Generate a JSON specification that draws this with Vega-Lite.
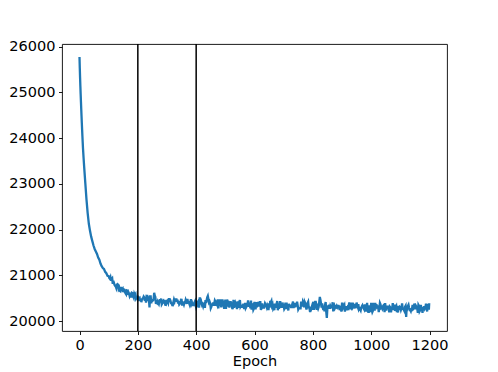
{
  "$schema": "https://vega.github.io/schema/vega-lite/v6.json",
  "width": 385,
  "height": 287,
  "autosize": {"type": "none"},
  "padding": {"left": 62, "top": 44, "right": 51, "bottom": 41},
  "background": "white",
  "config": {
    "view": {"stroke": "#000", "strokeWidth": 0.9},
    "axis": {
      "domain": false, "grid": false,
      "tickColor": "#000", "tickSize": 3.5, "tickWidth": 0.9,
      "labelColor": "#000", "labelFont": "DejaVu Sans", "labelFontSize": 14.5, "labelPadding": 3.5,
      "titleFont": "DejaVu Sans", "titleFontSize": 14.5, "titleFontWeight": "normal", "titleColor": "#000"
    }
  },
  "layer": [
    {
      "data": {"values": [
        {"epoch":0,"loss":25770},{"epoch":1,"loss":25530},{"epoch":2,"loss":25320},{"epoch":3,"loss":25130},{"epoch":4,"loss":24955},{"epoch":5,"loss":24790},{"epoch":6,"loss":24630},{"epoch":7,"loss":24475},{"epoch":8,"loss":24325},{"epoch":9,"loss":24180},{"epoch":10,"loss":24040},{"epoch":11,"loss":23905},{"epoch":12,"loss":23775},{"epoch":14,"loss":23565},
        {"epoch":16,"loss":23370},{"epoch":20,"loss":23010},{"epoch":24,"loss":22655},{"epoch":28,"loss":22362},{"epoch":32,"loss":22128},{"epoch":36,"loss":21973},{"epoch":40,"loss":21846},{"epoch":44,"loss":21749},{"epoch":48,"loss":21652},
        {"epoch":52,"loss":21577},{"epoch":56,"loss":21522},{"epoch":60,"loss":21467},{"epoch":64,"loss":21390},{"epoch":68,"loss":21342},{"epoch":72,"loss":21258},{"epoch":76,"loss":21202},{"epoch":80,"loss":21160},{"epoch":84,"loss":21140},{"epoch":88,"loss":21077},{"epoch":92,"loss":21047},{"epoch":96,"loss":20990},
        {"epoch":100,"loss":20984},{"epoch":104,"loss":20926},{"epoch":108,"loss":20882},{"epoch":112,"loss":20940},{"epoch":116,"loss":20884},{"epoch":120,"loss":20797},{"epoch":124,"loss":20760},{"epoch":128,"loss":20797},{"epoch":132,"loss":20799},{"epoch":136,"loss":20731},{"epoch":140,"loss":20652},{"epoch":144,"loss":20658},{"epoch":148,"loss":20713},{"epoch":152,"loss":20697},{"epoch":156,"loss":20634},{"epoch":160,"loss":20584},{"epoch":164,"loss":20667},{"epoch":168,"loss":20630},{"epoch":172,"loss":20546},{"epoch":176,"loss":20595},{"epoch":180,"loss":20620},{"epoch":184,"loss":20538},{"epoch":188,"loss":20600},{"epoch":192,"loss":20591},{"epoch":196,"loss":20510},
        {"epoch":200,"loss":20534},{"epoch":204,"loss":20502},{"epoch":208,"loss":20442},{"epoch":212,"loss":20415},{"epoch":216,"loss":20492},{"epoch":220,"loss":20536},{"epoch":224,"loss":20447},{"epoch":228,"loss":20403},{"epoch":232,"loss":20549},{"epoch":236,"loss":20505},{"epoch":240,"loss":20300},{"epoch":244,"loss":20540},{"epoch":248,"loss":20457},
        {"epoch":252,"loss":20454},{"epoch":256,"loss":20620},{"epoch":260,"loss":20529},{"epoch":264,"loss":20418},{"epoch":268,"loss":20433},{"epoch":272,"loss":20372},{"epoch":276,"loss":20478},{"epoch":280,"loss":20494},{"epoch":284,"loss":20388},{"epoch":288,"loss":20453},{"epoch":292,"loss":20430},{"epoch":296,"loss":20357},
        {"epoch":300,"loss":20446},{"epoch":304,"loss":20395},{"epoch":308,"loss":20480},{"epoch":312,"loss":20442},{"epoch":316,"loss":20391},{"epoch":320,"loss":20349},{"epoch":324,"loss":20475},{"epoch":328,"loss":20497},{"epoch":332,"loss":20495},{"epoch":336,"loss":20471},{"epoch":340,"loss":20434},{"epoch":344,"loss":20383},{"epoch":348,"loss":20468},{"epoch":352,"loss":20339},{"epoch":356,"loss":20397},{"epoch":360,"loss":20407},{"epoch":364,"loss":20463},{"epoch":368,"loss":20376},{"epoch":372,"loss":20413},{"epoch":376,"loss":20391},{"epoch":380,"loss":20401},{"epoch":384,"loss":20371},{"epoch":388,"loss":20352},{"epoch":392,"loss":20350},{"epoch":396,"loss":20435},
        {"epoch":400,"loss":20300},{"epoch":404,"loss":20421},{"epoch":408,"loss":20443},{"epoch":412,"loss":20496},{"epoch":416,"loss":20465},{"epoch":420,"loss":20349},{"epoch":424,"loss":20323},{"epoch":428,"loss":20385},{"epoch":432,"loss":20460},{"epoch":436,"loss":20460},{"epoch":440,"loss":20550},{"epoch":444,"loss":20409},{"epoch":448,"loss":20393},{"epoch":452,"loss":20314},{"epoch":456,"loss":20361},{"epoch":460,"loss":20337},{"epoch":464,"loss":20451},{"epoch":468,"loss":20335},{"epoch":472,"loss":20356},{"epoch":476,"loss":20277},{"epoch":480,"loss":20398},{"epoch":484,"loss":20397},{"epoch":488,"loss":20367},{"epoch":492,"loss":20417},{"epoch":496,"loss":20271},
        {"epoch":500,"loss":20470},{"epoch":504,"loss":20347},{"epoch":508,"loss":20438},{"epoch":512,"loss":20361},{"epoch":516,"loss":20360},{"epoch":520,"loss":20388},{"epoch":524,"loss":20265},{"epoch":528,"loss":20464},{"epoch":532,"loss":20371},{"epoch":536,"loss":20370},{"epoch":540,"loss":20262},{"epoch":544,"loss":20368},{"epoch":548,"loss":20430},{"epoch":552,"loss":20315},{"epoch":556,"loss":20314},{"epoch":560,"loss":20336},{"epoch":564,"loss":20287},{"epoch":568,"loss":20401},{"epoch":572,"loss":20311},{"epoch":576,"loss":20362},{"epoch":580,"loss":20332},{"epoch":584,"loss":20360},{"epoch":588,"loss":20452},{"epoch":592,"loss":20345},{"epoch":596,"loss":20251},
        {"epoch":600,"loss":20420},{"epoch":604,"loss":20279},{"epoch":608,"loss":20304},{"epoch":612,"loss":20418},{"epoch":616,"loss":20341},{"epoch":620,"loss":20417},{"epoch":624,"loss":20276},{"epoch":628,"loss":20276},{"epoch":632,"loss":20275},{"epoch":636,"loss":20390},{"epoch":640,"loss":20337},{"epoch":644,"loss":20350},{"epoch":648,"loss":20243},{"epoch":652,"loss":20297},{"epoch":656,"loss":20412},{"epoch":660,"loss":20334},{"epoch":664,"loss":20270},{"epoch":668,"loss":20240},{"epoch":672,"loss":20294},{"epoch":676,"loss":20384},{"epoch":680,"loss":20238},{"epoch":684,"loss":20267},{"epoch":688,"loss":20437},{"epoch":692,"loss":20314},{"epoch":696,"loss":20406},
        {"epoch":700,"loss":20342},{"epoch":704,"loss":20289},{"epoch":708,"loss":20264},{"epoch":712,"loss":20263},{"epoch":716,"loss":20233},{"epoch":720,"loss":20339},{"epoch":724,"loss":20338},{"epoch":728,"loss":20338},{"epoch":732,"loss":20430},{"epoch":736,"loss":20352},{"epoch":740,"loss":20322},{"epoch":744,"loss":20321},{"epoch":748,"loss":20350},{"epoch":752,"loss":20282},{"epoch":756,"loss":20282},{"epoch":760,"loss":20426},{"epoch":764,"loss":20318},{"epoch":768,"loss":20395},{"epoch":772,"loss":20424},{"epoch":776,"loss":20331},{"epoch":780,"loss":20316},{"epoch":784,"loss":20422},{"epoch":788,"loss":20300},{"epoch":792,"loss":20221},{"epoch":796,"loss":20299},
        {"epoch":800,"loss":20390},{"epoch":804,"loss":20250},{"epoch":808,"loss":20419},{"epoch":812,"loss":20341},{"epoch":816,"loss":20311},{"epoch":820,"loss":20311},{"epoch":824,"loss":20530},{"epoch":828,"loss":20387},{"epoch":832,"loss":20387},{"epoch":836,"loss":20246},{"epoch":840,"loss":20216},{"epoch":844,"loss":20416},{"epoch":848,"loss":20070},{"epoch":852,"loss":20322},{"epoch":856,"loss":20336},{"epoch":860,"loss":20336},{"epoch":864,"loss":20321},{"epoch":868,"loss":20413},{"epoch":872,"loss":20291},{"epoch":876,"loss":20290},{"epoch":880,"loss":20305},{"epoch":884,"loss":20305},{"epoch":888,"loss":20333},{"epoch":892,"loss":20241},{"epoch":896,"loss":20265},
        {"epoch":900,"loss":20380},{"epoch":904,"loss":20303},{"epoch":908,"loss":20354},{"epoch":912,"loss":20316},{"epoch":916,"loss":20330},{"epoch":920,"loss":20301},{"epoch":924,"loss":20378},{"epoch":928,"loss":20262},{"epoch":932,"loss":20285},{"epoch":936,"loss":20284},{"epoch":940,"loss":20351},{"epoch":944,"loss":20376},{"epoch":948,"loss":20327},{"epoch":952,"loss":20350},{"epoch":956,"loss":20374},{"epoch":960,"loss":20282},{"epoch":964,"loss":20234},{"epoch":968,"loss":20325},{"epoch":972,"loss":20310},{"epoch":976,"loss":20257},{"epoch":980,"loss":20347},{"epoch":984,"loss":20232},{"epoch":988,"loss":20256},{"epoch":992,"loss":20201},{"epoch":996,"loss":20230},
        {"epoch":1000,"loss":20400},{"epoch":1004,"loss":20200},{"epoch":1008,"loss":20399},{"epoch":1012,"loss":20229},{"epoch":1016,"loss":20291},{"epoch":1020,"loss":20305},{"epoch":1024,"loss":20320},{"epoch":1028,"loss":20290},{"epoch":1032,"loss":20367},{"epoch":1036,"loss":20303},{"epoch":1040,"loss":20318},{"epoch":1044,"loss":20318},{"epoch":1048,"loss":20395},{"epoch":1052,"loss":20250},{"epoch":1056,"loss":20272},{"epoch":1060,"loss":20287},{"epoch":1064,"loss":20316},{"epoch":1068,"loss":20193},{"epoch":1072,"loss":20271},{"epoch":1076,"loss":20285},{"epoch":1080,"loss":20362},{"epoch":1084,"loss":20314},{"epoch":1088,"loss":20221},{"epoch":1092,"loss":20191},{"epoch":1096,"loss":20283},
        {"epoch":1100,"loss":20297},{"epoch":1104,"loss":20283},{"epoch":1108,"loss":20267},{"epoch":1112,"loss":20244},{"epoch":1116,"loss":20310},{"epoch":1120,"loss":20090},{"epoch":1124,"loss":20281},{"epoch":1128,"loss":20357},{"epoch":1132,"loss":20242},{"epoch":1136,"loss":20216},{"epoch":1140,"loss":20264},{"epoch":1144,"loss":20264},{"epoch":1148,"loss":20385},{"epoch":1152,"loss":20263},{"epoch":1156,"loss":20306},{"epoch":1160,"loss":20184},{"epoch":1164,"loss":20329},{"epoch":1168,"loss":20238},{"epoch":1172,"loss":20305},{"epoch":1176,"loss":20182},{"epoch":1180,"loss":20237},{"epoch":1184,"loss":20275},{"epoch":1188,"loss":20381},{"epoch":1192,"loss":20211},{"epoch":1196,"loss":20273},{"epoch":1199,"loss":20390},
        {"epoch":102,"loss":20943},{"epoch":106,"loss":20958},{"epoch":110,"loss":20927},{"epoch":114,"loss":20814},{"epoch":118,"loss":20834},{"epoch":122,"loss":20772},{"epoch":126,"loss":20724},{"epoch":130,"loss":20810},{"epoch":134,"loss":20705},{"epoch":138,"loss":20661},{"epoch":142,"loss":20751},{"epoch":146,"loss":20698},{"epoch":150,"loss":20633},{"epoch":154,"loss":20689},{"epoch":158,"loss":20603},{"epoch":162,"loss":20673},{"epoch":166,"loss":20576},{"epoch":170,"loss":20600},{"epoch":174,"loss":20576},{"epoch":178,"loss":20517},{"epoch":182,"loss":20615},{"epoch":186,"loss":20509},{"epoch":190,"loss":20571},{"epoch":194,"loss":20490},{"epoch":198,"loss":20530},
        {"epoch":202,"loss":20482},{"epoch":206,"loss":20511},{"epoch":210,"loss":20487},{"epoch":214,"loss":20473},{"epoch":218,"loss":20502},{"epoch":222,"loss":20516},{"epoch":226,"loss":20531},{"epoch":230,"loss":20551},{"epoch":234,"loss":20439},{"epoch":238,"loss":20475},{"epoch":242,"loss":20541},{"epoch":246,"loss":20388},{"epoch":250,"loss":20444},{"epoch":254,"loss":20474},{"epoch":258,"loss":20560},{"epoch":262,"loss":20378},{"epoch":266,"loss":20398},{"epoch":270,"loss":20396},{"epoch":274,"loss":20430},{"epoch":278,"loss":20427},{"epoch":282,"loss":20366},{"epoch":286,"loss":20443},{"epoch":290,"loss":20420},{"epoch":294,"loss":20359},{"epoch":298,"loss":20436},
        {"epoch":302,"loss":20424},{"epoch":306,"loss":20480},{"epoch":310,"loss":20479},{"epoch":314,"loss":20392},{"epoch":318,"loss":20350},{"epoch":322,"loss":20418},{"epoch":326,"loss":20438},{"epoch":330,"loss":20437},{"epoch":334,"loss":20425},{"epoch":338,"loss":20385},{"epoch":342,"loss":20365},{"epoch":346,"loss":20400},{"epoch":350,"loss":20467},{"epoch":354,"loss":20409},{"epoch":358,"loss":20361},{"epoch":362,"loss":20406},{"epoch":366,"loss":20426},{"epoch":370,"loss":20484},{"epoch":374,"loss":20413},{"epoch":378,"loss":20355},{"epoch":382,"loss":20480},{"epoch":386,"loss":20399},{"epoch":390,"loss":20351},{"epoch":394,"loss":20407},{"epoch":398,"loss":20349},
        {"epoch":402,"loss":20329},{"epoch":406,"loss":20420},{"epoch":410,"loss":20297},{"epoch":414,"loss":20496},{"epoch":418,"loss":20388},{"epoch":422,"loss":20371},{"epoch":426,"loss":20370},{"epoch":430,"loss":20291},{"epoch":434,"loss":20397},{"epoch":438,"loss":20520},{"epoch":442,"loss":20480},{"epoch":446,"loss":20431},{"epoch":450,"loss":20285},{"epoch":454,"loss":20362},{"epoch":458,"loss":20405},{"epoch":462,"loss":20388},{"epoch":466,"loss":20425},{"epoch":470,"loss":20386},{"epoch":474,"loss":20478},{"epoch":478,"loss":20384},{"epoch":482,"loss":20475},{"epoch":486,"loss":20304},{"epoch":490,"loss":20473},{"epoch":494,"loss":20379},{"epoch":498,"loss":20349},
        {"epoch":502,"loss":20270},{"epoch":506,"loss":20469},{"epoch":510,"loss":20323},{"epoch":514,"loss":20297},{"epoch":518,"loss":20436},{"epoch":522,"loss":20388},{"epoch":526,"loss":20295},{"epoch":530,"loss":20294},{"epoch":534,"loss":20408},{"epoch":538,"loss":20340},{"epoch":542,"loss":20432},{"epoch":546,"loss":20291},{"epoch":550,"loss":20460},{"epoch":554,"loss":20337},{"epoch":558,"loss":20313},{"epoch":562,"loss":20380},{"epoch":566,"loss":20287},{"epoch":570,"loss":20286},{"epoch":574,"loss":20400},{"epoch":578,"loss":20454},{"epoch":582,"loss":20332},{"epoch":586,"loss":20283},{"epoch":590,"loss":20252},{"epoch":594,"loss":20358},{"epoch":598,"loss":20280},
        {"epoch":602,"loss":20280},{"epoch":606,"loss":20419},{"epoch":610,"loss":20355},{"epoch":614,"loss":20341},{"epoch":618,"loss":20417},{"epoch":622,"loss":20247},{"epoch":626,"loss":20391},{"epoch":630,"loss":20338},{"epoch":634,"loss":20338},{"epoch":638,"loss":20366},{"epoch":642,"loss":20299},{"epoch":646,"loss":20321},{"epoch":650,"loss":20387},{"epoch":654,"loss":20442},{"epoch":658,"loss":20441},{"epoch":662,"loss":20363},{"epoch":666,"loss":20295},{"epoch":670,"loss":20384},{"epoch":674,"loss":20332},{"epoch":678,"loss":20438},{"epoch":682,"loss":20345},{"epoch":686,"loss":20359},{"epoch":690,"loss":20381},{"epoch":694,"loss":20314},{"epoch":698,"loss":20342},
        {"epoch":702,"loss":20265},{"epoch":706,"loss":20404},{"epoch":710,"loss":20403},{"epoch":714,"loss":20340},{"epoch":718,"loss":20377},{"epoch":722,"loss":20339},{"epoch":726,"loss":20286},{"epoch":730,"loss":20375},{"epoch":734,"loss":20285},{"epoch":738,"loss":20322},{"epoch":742,"loss":20399},{"epoch":746,"loss":20428},{"epoch":750,"loss":20257},{"epoch":754,"loss":20282},{"epoch":758,"loss":20281},{"epoch":762,"loss":20371},{"epoch":766,"loss":20425},{"epoch":770,"loss":20302},{"epoch":774,"loss":20394},{"epoch":778,"loss":20253},{"epoch":782,"loss":20393},{"epoch":786,"loss":20300},{"epoch":790,"loss":20221},{"epoch":794,"loss":20251},{"epoch":798,"loss":20250},
        {"epoch":802,"loss":20420},{"epoch":806,"loss":20312},{"epoch":810,"loss":20419},{"epoch":814,"loss":20249},{"epoch":818,"loss":20273},{"epoch":822,"loss":20418},{"epoch":826,"loss":20470},{"epoch":830,"loss":20295},{"epoch":834,"loss":20295},{"epoch":838,"loss":20338},{"epoch":842,"loss":20361},{"epoch":846,"loss":20200},{"epoch":850,"loss":20293},{"epoch":854,"loss":20337},{"epoch":858,"loss":20269},{"epoch":862,"loss":20307},{"epoch":866,"loss":20306},{"epoch":870,"loss":20213},{"epoch":874,"loss":20335},{"epoch":878,"loss":20319},{"epoch":882,"loss":20334},{"epoch":886,"loss":20333},{"epoch":890,"loss":20304},{"epoch":894,"loss":20289},{"epoch":898,"loss":20210},
        {"epoch":902,"loss":20380},{"epoch":906,"loss":20331},{"epoch":910,"loss":20209},{"epoch":914,"loss":20264},{"epoch":918,"loss":20238},{"epoch":922,"loss":20286},{"epoch":926,"loss":20407},{"epoch":930,"loss":20300},{"epoch":934,"loss":20407},{"epoch":938,"loss":20299},{"epoch":942,"loss":20328},{"epoch":946,"loss":20283},{"epoch":950,"loss":20405},{"epoch":954,"loss":20312},{"epoch":958,"loss":20259},{"epoch":962,"loss":20259},{"epoch":966,"loss":20296},{"epoch":970,"loss":20348},{"epoch":974,"loss":20281},{"epoch":978,"loss":20347},{"epoch":982,"loss":20232},{"epoch":986,"loss":20401},{"epoch":990,"loss":20201},{"epoch":994,"loss":20346},{"epoch":998,"loss":20200},
        {"epoch":1002,"loss":20255},{"epoch":1006,"loss":20229},{"epoch":1010,"loss":20344},{"epoch":1014,"loss":20399},{"epoch":1018,"loss":20368},{"epoch":1022,"loss":20320},{"epoch":1026,"loss":20197},{"epoch":1030,"loss":20397},{"epoch":1034,"loss":20290},{"epoch":1038,"loss":20274},{"epoch":1042,"loss":20341},{"epoch":1046,"loss":20195},{"epoch":1050,"loss":20250},{"epoch":1054,"loss":20340},{"epoch":1058,"loss":20339},{"epoch":1062,"loss":20194},{"epoch":1066,"loss":20300},{"epoch":1070,"loss":20271},{"epoch":1074,"loss":20393},{"epoch":1078,"loss":20247},{"epoch":1082,"loss":20222},{"epoch":1086,"loss":20336},{"epoch":1090,"loss":20221},{"epoch":1094,"loss":20336},{"epoch":1098,"loss":20312},
        {"epoch":1102,"loss":20245},{"epoch":1106,"loss":20389},{"epoch":1110,"loss":20267},{"epoch":1114,"loss":20219},{"epoch":1118,"loss":20333},{"epoch":1122,"loss":20310},{"epoch":1126,"loss":20332},{"epoch":1130,"loss":20294},{"epoch":1134,"loss":20242},{"epoch":1138,"loss":20264},{"epoch":1142,"loss":20356},{"epoch":1146,"loss":20278},{"epoch":1150,"loss":20307},{"epoch":1154,"loss":20330},{"epoch":1158,"loss":20277},{"epoch":1162,"loss":20354},{"epoch":1166,"loss":20213},{"epoch":1170,"loss":20353},{"epoch":1174,"loss":20276},{"epoch":1178,"loss":20304},{"epoch":1182,"loss":20327},{"epoch":1186,"loss":20303},{"epoch":1190,"loss":20303},{"epoch":1194,"loss":20381},{"epoch":1198,"loss":20273}
      ]},
      "mark": {"type": "line", "color": "#1f77b4", "strokeWidth": 2.3, "clip": true},
      "encoding": {
        "x": {"field": "epoch", "type": "quantitative",
              "scale": {"domain": [-60, 1260], "nice": false, "zero": false},
              "axis": {"values": [0, 200, 400, 600, 800, 1000, 1200], "format": "d", "title": "Epoch", "titlePadding": 3}},
        "y": {"field": "loss", "type": "quantitative",
              "scale": {"domain": [19785, 26055], "nice": false, "zero": false},
              "axis": {"values": [20000, 21000, 22000, 23000, 24000, 25000, 26000], "format": "d", "title": null}}
      }
    },
    {
      "data": {"values": [{"epoch": 200}, {"epoch": 400}]},
      "mark": {"type": "rule", "color": "#000", "strokeWidth": 1.5},
      "encoding": {
        "x": {"field": "epoch", "type": "quantitative"}
      }
    }
  ]
}
